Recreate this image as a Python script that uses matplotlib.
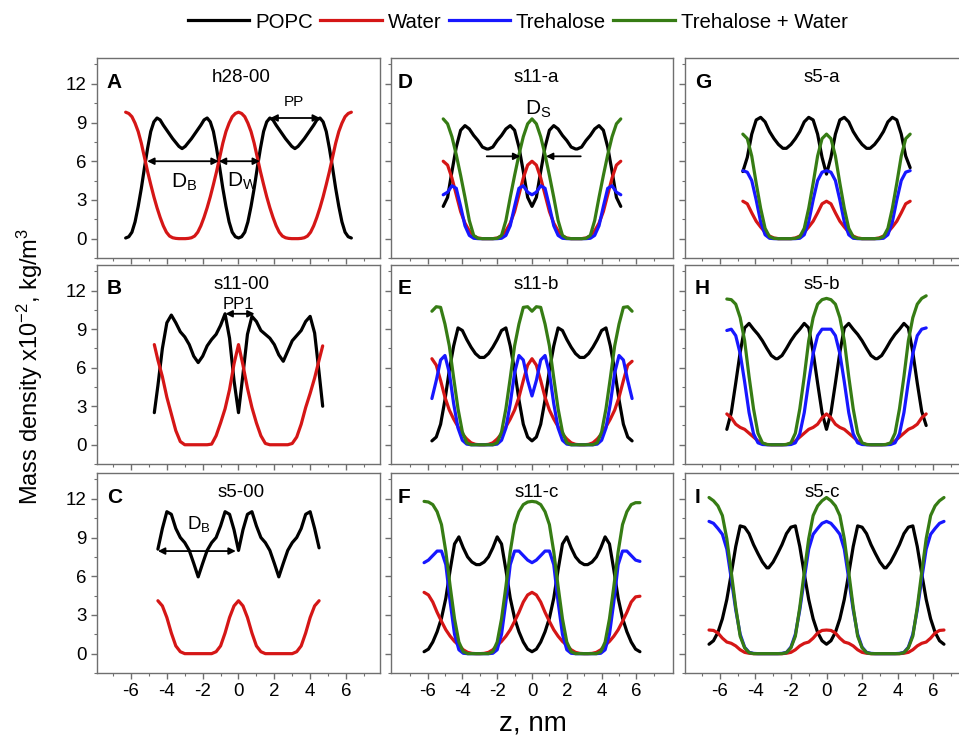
import matplotlib
matplotlib.use('Agg')
import matplotlib.pyplot as plt
from matplotlib.lines import Line2D
from matplotlib.ticker import FixedLocator

plt.rcParams['font.family'] = 'Liberation Sans'
plt.rcParams['mathtext.fontset'] = 'custom'
plt.rcParams['mathtext.rm'] = 'Liberation Sans'
plt.rcParams['mathtext.it'] = 'Liberation Sans:italic'
plt.rcParams['mathtext.bf'] = 'Liberation Sans:bold'
plt.rcParams['axes.unicode_minus'] = False

# ---- dados (z em nm, densidade x10^-2 kg/m^3) ----
z_A = [-6.3, -6.125, -5.95, -5.775, -5.6, -5.425, -5.25, -5.075, -4.9, -4.725, -4.55, -4.375, -4.2, -4.025, -3.85, -3.675, -3.5, -3.325, -3.15,
       -2.975, -2.8, -2.625, -2.45, -2.275, -2.1, -1.925, -1.75, -1.575, -1.4, -1.225, -1.05, -0.875, -0.7, -0.525, -0.35, -0.175, 0.0,
       0.175, 0.35, 0.525, 0.7, 0.875, 1.05, 1.225, 1.4, 1.575, 1.75, 1.925, 2.1, 2.275, 2.45, 2.625, 2.8, 2.975, 3.15,
       3.325, 3.5, 3.675, 3.85, 4.025, 4.2, 4.375, 4.55, 4.725, 4.9, 5.075, 5.25, 5.425, 5.6, 5.775, 5.95, 6.125, 6.3]
popc_A = [0.05, 0.15, 0.5, 1.3, 2.5, 3.9, 5.5, 7.0, 8.3, 9.05, 9.35, 9.2, 8.8, 8.45, 8.1, 7.75, 7.45, 7.15, 6.98,
          7.15, 7.45, 7.75, 8.1, 8.45, 8.8, 9.2, 9.35, 9.05, 8.3, 7.0, 5.5, 3.9, 2.5, 1.3, 0.5, 0.15, 0.05,
          0.15, 0.5, 1.3, 2.5, 3.9, 5.5, 7.0, 8.3, 9.05, 9.35, 9.2, 8.8, 8.45, 8.1, 7.75, 7.45, 7.15, 6.98,
          7.15, 7.45, 7.75, 8.1, 8.45, 8.8, 9.2, 9.35, 9.05, 8.3, 7.0, 5.5, 3.9, 2.5, 1.3, 0.5, 0.15, 0.05]
water_A = [9.8, 9.7, 9.45, 8.95, 8.3, 7.4, 6.3, 5.2, 4.2, 3.25, 2.4, 1.65, 1.0, 0.5, 0.2, 0.07, 0.02, 0.0, 0.0,
           0.0, 0.02, 0.07, 0.2, 0.5, 1.0, 1.65, 2.4, 3.25, 4.2, 5.2, 6.3, 7.4, 8.3, 8.95, 9.45, 9.7, 9.8,
           9.7, 9.45, 8.95, 8.3, 7.4, 6.3, 5.2, 4.2, 3.25, 2.4, 1.65, 1.0, 0.5, 0.2, 0.07, 0.02, 0.0, 0.0,
           0.0, 0.02, 0.07, 0.2, 0.5, 1.0, 1.65, 2.4, 3.25, 4.2, 5.2, 6.3, 7.4, 8.3, 8.95, 9.45, 9.7, 9.8]

z_B = [-4.7, -4.5, -4.25, -4.0, -3.75, -3.5, -3.25, -3.0, -2.75, -2.5, -2.25, -2.0, -1.75, -1.5, -1.25, -1.0, -0.75, -0.5, -0.25, 0.0,
       0.25, 0.5, 0.75, 1.0, 1.25, 1.5, 1.75, 2.0, 2.25, 2.5, 2.75, 3.0, 3.25, 3.5, 3.75, 4.0, 4.25, 4.5, 4.7]
popc_B = [2.5, 4.6, 7.5, 9.5, 10.1, 9.5, 8.8, 8.4, 7.8, 6.9, 6.4, 6.9, 7.7, 8.2, 8.6, 9.3, 10.2, 8.3, 5.0, 2.5,
          5.5, 8.6, 10.0, 9.6, 8.9, 8.6, 8.3, 7.8, 7.0, 6.5, 7.3, 8.1, 8.5, 8.9, 9.6, 10.0, 8.7, 5.6, 3.0]
water_B = [7.8, 6.6, 5.3, 3.7, 2.4, 1.1, 0.25, 0.0, 0.0, 0.0, 0.0, 0.0, 0.0, 0.05, 0.7, 1.7, 2.8, 4.3, 6.3, 7.8,
           6.2, 4.4, 2.9, 1.7, 0.7, 0.1, 0.0, 0.0, 0.0, 0.0, 0.0, 0.1, 0.6, 1.6, 2.9, 4.0, 5.2, 6.6, 7.7]

z_C = [-4.5, -4.25, -4.0, -3.75, -3.5, -3.25, -3.0, -2.75, -2.5, -2.25, -2.0, -1.75, -1.5, -1.25, -1.0, -0.75, -0.5, -0.25, 0.0,
       0.25, 0.5, 0.75, 1.0, 1.25, 1.5, 1.75, 2.0, 2.25, 2.5, 2.75, 3.0, 3.25, 3.5, 3.75, 4.0, 4.25, 4.5]
popc_C = [8.1, 9.7, 11.0, 10.8, 9.7, 9.0, 8.6, 8.0, 7.0, 5.95, 7.0, 8.0, 8.6, 9.0, 9.9, 11.0, 10.8, 9.6, 8.0,
          9.6, 10.8, 11.0, 9.9, 9.0, 8.6, 8.0, 7.0, 5.95, 7.0, 8.0, 8.6, 9.0, 9.7, 10.8, 11.0, 9.7, 8.2]
water_C = [4.1, 3.7, 2.8, 1.6, 0.6, 0.15, 0, 0, 0, 0, 0, 0, 0, 0.15, 0.6, 1.6, 2.8, 3.7, 4.1,
           3.7, 2.8, 1.6, 0.6, 0.15, 0, 0, 0, 0, 0, 0, 0, 0.15, 0.6, 1.6, 2.8, 3.7, 4.1]

z_D = [-5.1, -4.85, -4.6, -4.35, -4.1, -3.85, -3.6, -3.35, -3.1, -2.85, -2.6, -2.5, -2.25, -2.0, -1.75, -1.5, -1.25, -1.0, -0.75, -0.5, -0.25, 0.0,
       0.25, 0.5, 0.75, 1.0, 1.25, 1.5, 1.75, 2.0, 2.25, 2.5, 2.6, 2.85, 3.1, 3.35, 3.6, 3.85, 4.1, 4.35, 4.6, 4.85, 5.1]
popc_D = [2.5, 3.2, 5.2, 7.1, 8.4, 8.76, 8.5, 8.0, 7.6, 7.1, 6.95, 6.95, 7.1, 7.6, 8.0, 8.5, 8.76, 8.4, 7.1, 5.2, 3.2, 2.5,
          3.2, 5.2, 7.1, 8.4, 8.76, 8.5, 8.0, 7.6, 7.1, 6.95, 6.95, 7.1, 7.6, 8.0, 8.5, 8.76, 8.4, 7.1, 5.2, 3.2, 2.5]
water_D = [6.0, 5.7, 4.7, 3.4, 2.1, 1.2, 0.6, 0.2, 0.05, 0, 0, 0, 0, 0.05, 0.2, 0.6, 1.2, 2.1, 3.4, 4.7, 5.7, 6.0,
           5.7, 4.7, 3.4, 2.1, 1.2, 0.6, 0.2, 0.05, 0, 0, 0, 0, 0.05, 0.2, 0.6, 1.2, 2.1, 3.4, 4.7, 5.7, 6.0]
treh_D = [3.4, 3.6, 4.1, 3.9, 2.5, 1.0, 0.25, 0.03, 0, 0, 0, 0, 0, 0, 0.03, 0.25, 1.0, 2.5, 3.9, 4.1, 3.6, 3.4,
          3.6, 4.1, 3.9, 2.5, 1.0, 0.25, 0.03, 0, 0, 0, 0, 0, 0, 0.03, 0.25, 1.0, 2.5, 3.9, 4.1, 3.6, 3.4]
trehw_D = [9.28, 8.9, 7.9, 6.5, 4.9, 3.2, 1.4, 0.25, 0.02, 0, 0, 0, 0, 0.02, 0.25, 1.4, 3.2, 4.9, 6.5, 7.9, 8.9, 9.28,
           8.9, 7.9, 6.5, 4.9, 3.2, 1.4, 0.25, 0.02, 0, 0, 0, 0, 0.02, 0.25, 1.4, 3.2, 4.9, 6.5, 7.9, 8.9, 9.28]

z_E = [-5.75, -5.5, -5.25, -5.0, -4.75, -4.5, -4.25, -4.0, -3.75, -3.5, -3.25, -3.0, -2.75, -2.5, -2.25, -2.0, -1.75, -1.5, -1.25, -1.0, -0.75, -0.5, -0.25, 0.0,
       0.25, 0.5, 0.75, 1.0, 1.25, 1.5, 1.75, 2.0, 2.25, 2.5, 2.75, 3.0, 3.25, 3.5, 3.75, 4.0, 4.25, 4.5, 4.75, 5.0, 5.25, 5.5, 5.75]
popc_E = [0.3, 0.6, 1.6, 3.5, 5.8, 7.7, 9.1, 8.9, 8.2, 7.6, 7.1, 6.8, 6.8, 7.1, 7.6, 8.2, 8.9, 9.1, 7.7, 5.8, 3.5, 1.6, 0.6, 0.3,
          0.6, 1.6, 3.5, 5.8, 7.7, 9.1, 8.9, 8.2, 7.6, 7.1, 6.8, 6.8, 7.1, 7.6, 8.2, 8.9, 9.1, 7.7, 5.8, 3.5, 1.6, 0.6, 0.3]
water_E = [6.7, 6.2, 5.0, 3.7, 2.7, 2.0, 1.4, 0.85, 0.45, 0.15, 0.03, 0, 0, 0.03, 0.15, 0.45, 0.85, 1.4, 2.0, 2.7, 3.7, 5.0, 6.2, 6.7,
           6.2, 5.0, 3.7, 2.7, 2.0, 1.4, 0.85, 0.45, 0.15, 0.03, 0, 0, 0.03, 0.15, 0.45, 0.85, 1.4, 2.0, 2.7, 3.7, 5.0, 6.2, 6.5]
treh_E = [3.6, 5.0, 6.6, 6.95, 5.6, 3.2, 1.3, 0.35, 0.05, 0, 0, 0, 0, 0, 0, 0.05, 0.35, 1.3, 3.2, 5.6, 6.95, 6.6, 5.0, 3.8,
          5.0, 6.6, 6.95, 5.6, 3.2, 1.3, 0.35, 0.05, 0, 0, 0, 0, 0, 0, 0.05, 0.35, 1.3, 3.2, 5.6, 6.95, 6.6, 5.0, 3.6]
trehw_E = [10.4, 10.75, 10.7, 9.4, 7.7, 5.2, 2.8, 1.0, 0.15, 0, 0, 0, 0, 0, 0, 0.15, 1.0, 2.8, 5.2, 7.7, 9.4, 10.7, 10.75, 10.4,
           10.75, 10.7, 9.4, 7.7, 5.2, 2.8, 1.0, 0.15, 0, 0, 0, 0, 0, 0, 0.15, 1.0, 2.8, 5.2, 7.7, 9.4, 10.7, 10.75, 10.4]

z_F = [-6.2, -5.95, -5.7, -5.45, -5.2, -4.95, -4.7, -4.45, -4.2, -3.95, -3.7, -3.45, -3.2, -3.0, -2.75, -2.5, -2.25, -2.0, -1.75, -1.5, -1.25, -1.0, -0.75, -0.5, -0.25, 0.0,
       0.25, 0.5, 0.75, 1.0, 1.25, 1.5, 1.75, 2.0, 2.25, 2.5, 2.75, 3.0, 3.2, 3.45, 3.7, 3.95, 4.2, 4.45, 4.7, 4.95, 5.2, 5.45, 5.7, 5.95, 6.2]
popc_F = [0.15, 0.35, 0.9, 1.7, 2.75, 4.3, 6.5, 8.5, 9.05, 8.2, 7.5, 7.1, 6.9, 6.9, 7.1, 7.5, 8.2, 9.05, 8.5, 6.5, 4.3, 2.75, 1.7, 0.9, 0.35, 0.15,
          0.35, 0.9, 1.7, 2.75, 4.3, 6.5, 8.5, 9.05, 8.2, 7.5, 7.1, 6.9, 6.9, 7.1, 7.5, 8.2, 9.05, 8.5, 6.5, 4.3, 2.75, 1.7, 0.9, 0.35, 0.15]
water_F = [4.75, 4.55, 4.0, 3.2, 2.5, 1.85, 1.35, 0.95, 0.65, 0.3, 0.1, 0.02, 0, 0, 0.02, 0.1, 0.3, 0.65, 0.95, 1.35, 1.85, 2.5, 3.2, 4.0, 4.55, 4.75,
           4.55, 4.0, 3.2, 2.5, 1.85, 1.35, 0.95, 0.65, 0.3, 0.1, 0.02, 0, 0, 0.02, 0.1, 0.3, 0.65, 0.95, 1.35, 1.85, 2.5, 3.2, 4.0, 4.4, 4.45]
treh_F = [7.05, 7.25, 7.6, 7.95, 7.95, 6.9, 4.0, 1.5, 0.3, 0.03, 0, 0, 0, 0, 0, 0, 0.03, 0.3, 1.5, 4.0, 6.9, 7.95, 7.95, 7.6, 7.25, 7.05,
          7.25, 7.6, 7.95, 7.95, 6.9, 4.0, 1.5, 0.3, 0.03, 0, 0, 0, 0, 0, 0, 0.03, 0.3, 1.5, 4.0, 6.9, 7.95, 7.95, 7.6, 7.25, 7.15]
trehw_F = [11.8, 11.75, 11.55, 11.0, 10.0, 7.9, 5.2, 2.7, 0.9, 0.15, 0, 0, 0, 0, 0, 0, 0.15, 0.9, 2.7, 5.2, 7.9, 10.0, 11.0, 11.55, 11.75, 11.8,
           11.75, 11.55, 11.0, 10.0, 7.9, 5.2, 2.7, 0.9, 0.15, 0, 0, 0, 0, 0, 0, 0.15, 0.9, 2.7, 5.2, 7.9, 10.0, 11.0, 11.55, 11.7, 11.7]

z_G = [-4.7, -4.45, -4.2, -3.95, -3.7, -3.45, -3.2, -2.95, -2.7, -2.45, -2.25, -2.0, -1.75, -1.5, -1.25, -1.0, -0.75, -0.5, -0.25, 0.0,
       0.25, 0.5, 0.75, 1.0, 1.25, 1.5, 1.75, 2.0, 2.25, 2.45, 2.7, 2.95, 3.2, 3.45, 3.7, 3.95, 4.2, 4.45, 4.7]
popc_G = [5.2, 6.3, 8.1, 9.2, 9.4, 9.05, 8.3, 7.75, 7.3, 7.0, 7.0, 7.3, 7.75, 8.3, 9.05, 9.4, 9.2, 8.1, 6.3, 5.0,
          6.3, 8.1, 9.2, 9.4, 9.05, 8.3, 7.75, 7.3, 7.0, 7.0, 7.3, 7.75, 8.3, 9.05, 9.4, 9.2, 8.1, 6.4, 5.5]
water_G = [2.9, 2.7, 2.0, 1.35, 0.9, 0.5, 0.2, 0.05, 0, 0, 0, 0, 0.05, 0.2, 0.5, 0.9, 1.35, 2.0, 2.7, 2.9,
           2.7, 2.0, 1.35, 0.9, 0.5, 0.2, 0.05, 0, 0, 0, 0, 0.05, 0.2, 0.5, 0.9, 1.35, 2.0, 2.7, 2.9]
treh_G = [5.27, 5.15, 4.5, 3.0, 1.3, 0.3, 0.03, 0, 0, 0, 0, 0, 0, 0.03, 0.3, 1.3, 3.0, 4.5, 5.15, 5.27,
          5.15, 4.5, 3.0, 1.3, 0.3, 0.03, 0, 0, 0, 0, 0, 0, 0.03, 0.3, 1.3, 3.0, 4.5, 5.15, 5.27]
trehw_G = [8.1, 7.75, 6.4, 4.3, 2.35, 0.8, 0.15, 0.02, 0, 0, 0, 0, 0.02, 0.15, 0.8, 2.35, 4.3, 6.4, 7.75, 8.1,
           7.75, 6.4, 4.3, 2.35, 0.8, 0.15, 0.02, 0, 0, 0, 0, 0.02, 0.15, 0.8, 2.35, 4.3, 6.4, 7.75, 8.1]

z_H = [-5.6, -5.35, -5.1, -4.85, -4.6, -4.35, -4.1, -3.85, -3.6, -3.35, -3.1, -2.85, -2.75, -2.5, -2.25, -2.0, -1.75, -1.5, -1.25, -1.0, -0.75, -0.5, -0.25, 0.0,
       0.25, 0.5, 0.75, 1.0, 1.25, 1.5, 1.75, 2.0, 2.25, 2.5, 2.75, 2.85, 3.1, 3.35, 3.6, 3.85, 4.1, 4.35, 4.6, 4.85, 5.1, 5.35, 5.6]
popc_H = [1.2, 2.5, 4.8, 7.2, 9.1, 9.45, 9.0, 8.6, 8.1, 7.5, 6.95, 6.7, 6.7, 6.95, 7.5, 8.1, 8.6, 9.0, 9.45, 9.1, 7.2, 4.8, 2.5, 1.2,
          2.5, 4.8, 7.2, 9.1, 9.45, 9.0, 8.6, 8.1, 7.5, 6.95, 6.7, 6.7, 6.95, 7.5, 8.1, 8.6, 9.0, 9.45, 9.1, 7.2, 4.8, 2.6, 1.5]
water_H = [2.4, 2.1, 1.6, 1.35, 1.2, 0.9, 0.6, 0.3, 0.1, 0.02, 0, 0, 0, 0, 0.02, 0.1, 0.3, 0.6, 0.9, 1.2, 1.35, 1.6, 2.1, 2.4,
           2.1, 1.6, 1.35, 1.2, 0.9, 0.6, 0.3, 0.1, 0.02, 0, 0, 0, 0, 0.02, 0.1, 0.3, 0.6, 0.9, 1.2, 1.35, 1.6, 2.1, 2.4]
treh_H = [8.9, 9.0, 8.5, 7.1, 4.9, 2.5, 0.85, 0.15, 0.02, 0, 0, 0, 0, 0, 0, 0.02, 0.15, 0.85, 2.5, 4.9, 7.1, 8.5, 9.0, 9.0,
          9.0, 8.5, 7.1, 4.9, 2.5, 0.85, 0.15, 0.02, 0, 0, 0, 0, 0, 0, 0.02, 0.15, 0.85, 2.5, 4.9, 7.1, 8.5, 9.0, 9.1]
trehw_H = [11.35, 11.3, 10.95, 9.9, 8.1, 5.3, 2.8, 0.9, 0.15, 0.02, 0, 0, 0, 0, 0.02, 0.15, 0.9, 2.8, 5.3, 8.1, 9.9, 10.95, 11.3, 11.4,
           11.3, 10.95, 9.9, 8.1, 5.3, 2.8, 0.9, 0.15, 0.02, 0, 0, 0, 0, 0.02, 0.15, 0.9, 2.8, 5.3, 8.1, 9.9, 10.95, 11.4, 11.6]

z_I = [-6.6, -6.35, -6.1, -5.85, -5.6, -5.35, -5.1, -4.85, -4.6, -4.35, -4.1, -3.85, -3.6, -3.35, -3.25, -3.0, -2.75, -2.5, -2.25, -2.0, -1.75, -1.5, -1.25, -1.0, -0.75, -0.5, -0.25, 0.0,
       0.25, 0.5, 0.75, 1.0, 1.25, 1.5, 1.75, 2.0, 2.25, 2.5, 2.75, 3.0, 3.25, 3.35, 3.6, 3.85, 4.1, 4.35, 4.6, 4.85, 5.1, 5.35, 5.6, 5.85, 6.1, 6.35, 6.6]
popc_I = [0.73, 1.0, 1.65, 2.7, 4.2, 6.2, 8.3, 9.9, 9.8, 9.3, 8.45, 7.75, 7.1, 6.65, 6.65, 7.1, 7.75, 8.45, 9.3, 9.8, 9.9, 8.3, 6.2, 4.2, 2.7, 1.65, 1.0, 0.73,
          1.0, 1.65, 2.7, 4.2, 6.2, 8.3, 9.9, 9.8, 9.3, 8.45, 7.75, 7.1, 6.65, 6.65, 7.1, 7.75, 8.45, 9.3, 9.8, 9.9, 8.3, 6.2, 4.2, 2.7, 1.65, 1.0, 0.73]
water_I = [1.83, 1.8, 1.6, 1.2, 0.9, 0.8, 0.6, 0.3, 0.1, 0.03, 0, 0, 0, 0, 0, 0, 0, 0, 0.03, 0.1, 0.3, 0.6, 0.8, 0.9, 1.2, 1.6, 1.8, 1.83,
           1.8, 1.6, 1.2, 0.9, 0.8, 0.6, 0.3, 0.1, 0.03, 0, 0, 0, 0, 0, 0, 0, 0, 0.03, 0.1, 0.3, 0.6, 0.8, 0.9, 1.2, 1.6, 1.8, 1.83]
treh_I = [10.25, 10.1, 9.7, 9.25, 8.1, 5.8, 3.4, 1.5, 0.5, 0.1, 0.02, 0, 0, 0, 0, 0, 0, 0.02, 0.1, 0.5, 1.5, 3.4, 5.8, 8.1, 9.25, 9.7, 10.1, 10.25,
          10.1, 9.7, 9.25, 8.1, 5.8, 3.4, 1.5, 0.5, 0.1, 0.02, 0, 0, 0, 0, 0, 0, 0.02, 0.1, 0.5, 1.5, 3.4, 5.8, 8.1, 9.25, 9.7, 10.1, 10.25]
trehw_I = [12.1, 11.85, 11.45, 10.7, 8.9, 6.3, 3.6, 1.35, 0.45, 0.08, 0, 0, 0, 0, 0, 0, 0, 0, 0.08, 0.45, 1.35, 3.6, 6.3, 8.9, 10.7, 11.45, 11.85, 12.1,
           11.85, 11.45, 10.7, 8.9, 6.3, 3.6, 1.35, 0.45, 0.08, 0, 0, 0, 0, 0, 0, 0, 0, 0.08, 0.45, 1.35, 3.6, 6.3, 8.9, 10.7, 11.45, 11.85, 12.1]

nomes = ['POPC', 'Water', 'Trehalose', 'Trehalose + Water']
cores = ['black', '#d51616', '#1717ff', '#367c14']
x_major = [-6, -4, -2, 0, 2, 4, 6]
x_minor = [-7, -5, -3, -1, 1, 3, 5, 7]
y_major = [0, 3, 6, 9, 12]
y_minor = [-1.5, 1.5, 4.5, 7.5, 10.5, 13.5]

cinza = '#6f6f6f'


def painel(ax, z, series, letra, titulo, xlim, x_tit):
    for nome, cor in zip(nomes, cores):
        if nome in series:
            ax.plot(z, series[nome], color=cor, lw=2.3, solid_capstyle='round', solid_joinstyle='round')
    ax.set_xlim(xlim)
    ax.set_ylim(-1.5, 14)
    ax.xaxis.set_major_locator(FixedLocator(x_major))
    ax.xaxis.set_minor_locator(FixedLocator(x_minor))
    ax.yaxis.set_major_locator(FixedLocator(y_major))
    ax.yaxis.set_minor_locator(FixedLocator(y_minor))
    ax.tick_params(which='both', direction='out', top=False, right=False, color=cinza, labelsize=13.5)
    ax.tick_params(which='major', length=4, width=1, pad=3.5)
    ax.tick_params(which='minor', length=2.2, width=0.8)
    for s in ax.spines.values():
        s.set_color(cinza)
        s.set_linewidth(1.0)
    ax.text(letra[1], 0.852, letra[0], transform=ax.transAxes, fontsize=15, fontweight='bold', va='baseline', ha='left')
    ax.text(x_tit, 0.878, titulo, transform=ax.transAxes, fontsize=13.5, va='baseline', ha='center')


def seta(ax, x0, x1, y, estilo='<|-|>'):
    ax.annotate('', xy=(x1, y), xytext=(x0, y),
                arrowprops=dict(arrowstyle=estilo, color='black', lw=1.3, shrinkA=0, shrinkB=0, mutation_scale=10))


fig = plt.figure(figsize=(9.59, 7.38), dpi=100)
W, H = 959.0, 738.0

col_left = [97, 391, 685]
col_w = [283, 282, 283]
col_xlim = [(-7.9, 7.9), (-8.1, 8.1), (-7.95, 7.95)]
col_tit = [0.51, 0.515, 0.485]
col_letra = [0.035, 0.022, 0.035]
row_top = [58, 265, 473]
row_h = [200, 199, 200]

paineis = [
    [('A', 'h28-00', z_A, {'POPC': popc_A, 'Water': water_A}),
     ('B', 's11-00', z_B, {'POPC': popc_B, 'Water': water_B}),
     ('C', 's5-00', z_C, {'POPC': popc_C, 'Water': water_C})],
    [('D', 's11-a', z_D, {'POPC': popc_D, 'Water': water_D, 'Trehalose': treh_D, 'Trehalose + Water': trehw_D}),
     ('E', 's11-b', z_E, {'POPC': popc_E, 'Water': water_E, 'Trehalose': treh_E, 'Trehalose + Water': trehw_E}),
     ('F', 's11-c', z_F, {'POPC': popc_F, 'Water': water_F, 'Trehalose': treh_F, 'Trehalose + Water': trehw_F})],
    [('G', 's5-a', z_G, {'POPC': popc_G, 'Water': water_G, 'Trehalose': treh_G, 'Trehalose + Water': trehw_G}),
     ('H', 's5-b', z_H, {'POPC': popc_H, 'Water': water_H, 'Trehalose': treh_H, 'Trehalose + Water': trehw_H}),
     ('I', 's5-c', z_I, {'POPC': popc_I, 'Water': water_I, 'Trehalose': treh_I, 'Trehalose + Water': trehw_I})],
]

eixos = {}
for c in range(3):
    for r in range(3):
        letra, titulo, z, series = paineis[c][r]
        ax = fig.add_axes([col_left[c] / W, 1 - (row_top[r] + row_h[r]) / H, col_w[c] / W, row_h[r] / H])
        painel(ax, z, series, (letra, col_letra[c]), titulo, col_xlim[c], col_tit[c])
        if r < 2:
            ax.tick_params(labelbottom=False)
        if c > 0:
            ax.tick_params(labelleft=False)
        eixos[letra] = ax

# anotacoes
ax = eixos['A']
seta(ax, -5.1, -1.1, 6.0)
seta(ax, -1.1, 1.2, 6.0)
seta(ax, 1.78, 4.55, 9.35)
ax.text(-3.05, 3.95, r'D$_\mathrm{B}$', fontsize=15, ha='center', va='baseline')
ax.text(0.2, 4.05, r'D$_\mathrm{W}$', fontsize=15, ha='center', va='baseline')
ax.text(3.1, 10.25, 'PP', fontsize=11, ha='center', va='baseline')

ax = eixos['B']
seta(ax, -0.73, 0.9, 10.2)
ax.text(0.0, 10.55, 'PP1', fontsize=12, ha='center', va='baseline')

ax = eixos['C']
seta(ax, -4.5, -0.15, 7.95)
ax.text(-2.2, 9.65, r'D$_\mathrm{B}$', fontsize=13.5, ha='center', va='baseline')

ax = eixos['D']
seta(ax, -2.6, -0.67, 6.38, '-|>')
seta(ax, 2.8, 0.8, 6.38, '-|>')
ax.text(0.33, 9.6, r'D$_\mathrm{S}$', fontsize=15, ha='center', va='baseline')

# legenda
handles = [Line2D([], [], color=cor, lw=2.3) for cor in cores]
fig.legend(handles, nomes, loc='center', bbox_to_anchor=(0.54, 1 - 22 / H), ncol=4, frameon=False,
           fontsize=14.7, handlelength=3.0, handletextpad=0.3, columnspacing=0.35, borderaxespad=0, borderpad=0)

fig.text(0.031, 0.503, r'Mass density x10$^{-2}$, kg/m$^{3}$', rotation=90, fontsize=17, ha='center', va='center')
fig.text(0.556, 1 - 731 / H, 'z, nm', fontsize=20, ha='center', va='baseline')

fig.savefig('out.png', dpi=100)
